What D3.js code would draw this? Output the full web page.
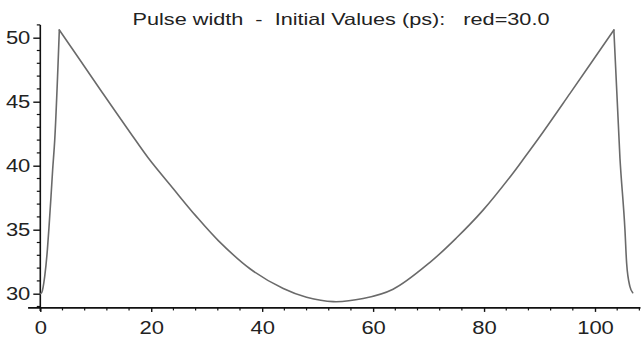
<!DOCTYPE html>
<html><head><meta charset="utf-8">
<script src="https://cdn.jsdelivr.net/npm/d3@7"></script>
<style>
body{margin:0;background:#fff;}
text{font-family:"Liberation Sans",Arial,Helvetica,sans-serif;}
</style></head>
<body><svg id="c" width="641" height="344"></svg>
<script>
const title = "Pulse width  -  Initial Values (ps):   red=30.0";
const xTicks = [0, 20, 40, 60, 80, 100];
const yTicks = [30, 35, 40, 45, 50];
const xs = [0, 0.25, 0.79, 1.27, 1.57, 1.93, 2.23, 2.6, 3.43, 7.0, 11.36, 16.19, 19.47, 23.98, 28.0, 32.09, 37.8, 43.8, 48.0, 52.8, 58.2, 63.6, 70.25, 75.0, 79.86, 85.0, 87.4, 90.1, 95.5, 103.4, 104.5, 105.4, 105.7, 106.3, 106.8];
const ys = [30.0, 30.08, 31.33, 33.4, 35.2, 37.6, 39.7, 42.0, 50.6, 48.35, 45.6, 42.6, 40.6, 38.2, 36.1, 34.15, 31.95, 30.4, 29.72, 29.38, 29.62, 30.35, 32.45, 34.35, 36.55, 39.3, 40.7, 42.3, 45.65, 50.6, 40.58, 34.98, 32.4, 30.55, 30.08];

const svg = d3.select("#c");
const x = d3.scaleLinear().domain([0, 100]).range([40.3, 595]);
const y = d3.scaleLinear().domain([30, 50]).range([293.7, 37.7]);
const yBase = 28.89;
const stretch = 1.17;

// title (glyphs stretched horizontally as in the reference)
svg.append("text").attr("x", 341).attr("y", 25).attr("text-anchor", "middle")
  .attr("font-size", 16.5).attr("fill", "#222").style("white-space", "pre")
  .attr("textLength", 417).attr("lengthAdjust", "spacingAndGlyphs").text(title);

// x axis
const gx = svg.append("g").attr("transform", `translate(0,${y(yBase)})`);
gx.append("line").attr("x1", x(-2.2)).attr("x2", x(108.2)).attr("stroke", "#111").attr("stroke-width", 1.6);
const xMinor = d3.range(0, 109, 4).filter(v => v % 20 !== 0);
gx.selectAll(".xm").data(xMinor).join("line").attr("x1", d => x(d)).attr("x2", d => x(d))
  .attr("y1", 0).attr("y2", 2.5).attr("stroke", "#111").attr("stroke-width", 1.2);
gx.call(g => {
  const ax = d3.axisBottom(x).tickValues(xTicks).tickSize(4).tickPadding(9).tickFormat(d3.format("d"));
  const sub = g.append("g").call(ax);
  sub.select(".domain").remove();
  sub.selectAll(".tick line").attr("stroke", "#111").attr("stroke-width", 1.4);
  sub.selectAll(".tick text").attr("font-size", 18.8).attr("fill", "#222")
    .attr("font-family", "Liberation Sans, Arial, sans-serif")
    .attr("transform", `scale(${stretch},1)`);
});

// y axis
const gy = svg.append("g").attr("transform", `translate(${x(0)},0)`);
gy.append("line").attr("y1", y(51)).attr("y2", y(yBase) + 3).attr("stroke", "#111").attr("stroke-width", 1.6);
const yMinor = d3.range(29, 52, 1).filter(v => v % 5 !== 0);
gy.selectAll(".ym").data(yMinor).join("line").attr("y1", d => y(d)).attr("y2", d => y(d))
  .attr("x1", 0).attr("x2", -3.5).attr("stroke", "#111").attr("stroke-width", 1.2);
gy.call(g => {
  const ay = d3.axisLeft(y).tickValues(yTicks).tickSize(7).tickPadding(2).tickFormat(d3.format("d"));
  const sub = g.append("g").call(ay);
  sub.select(".domain").remove();
  sub.selectAll(".tick line").attr("stroke", "#111").attr("stroke-width", 1.4);
  sub.selectAll(".tick text").attr("font-size", 18.8).attr("fill", "#222")
    .attr("font-family", "Liberation Sans, Arial, sans-serif")
    .attr("x", -8.5).attr("transform", `scale(${stretch},1)`);
});

// curve: sharp corners at the two peaks, smooth in between
const pts = xs.map((v, i) => [v, ys[i]]);
const iPeak1 = 8, iPeak2 = 29;
const segs = [
  {d: pts.slice(0, iPeak1 + 1), c: d3.curveMonotoneX},
  {d: pts.slice(iPeak1, iPeak2 + 1), c: d3.curveCatmullRom.alpha(0.5)},
  {d: pts.slice(iPeak2), c: d3.curveMonotoneX}
];
segs.forEach(s => {
  const line = d3.line().x(d => x(d[0])).y(d => y(d[1])).curve(s.c);
  svg.append("path").datum(s.d).attr("d", line).attr("fill", "none")
    .attr("stroke", "#6a6a6a").attr("stroke-width", 1.6).attr("stroke-linejoin", "round").attr("stroke-linecap", "round");
});
</script></body></html>
